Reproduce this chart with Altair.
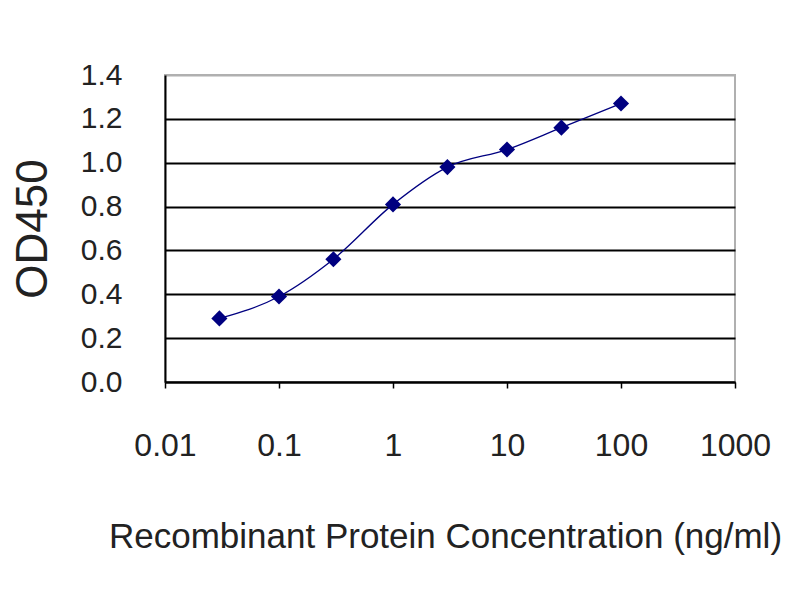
import altair as alt
import pandas as pd

# ELISA standard curve
conc = [0.03, 0.1, 0.3, 1, 3, 10, 30, 100]
od450 = [0.29, 0.39, 0.56, 0.81, 0.98, 1.06, 1.16, 1.27]

x_ticks = [0.01, 0.1, 1, 10, 100, 1000]
y_ticks = [0.0, 0.2, 0.4, 0.6, 0.8, 1.0, 1.2, 1.4]

FONT = "Liberation Sans, Arial, sans-serif"
NAVY = "#000080"
TEXT = "#222"

source = pd.DataFrame({"conc": conc, "od": od450})

x = alt.X(
    "conc:Q",
    scale=alt.Scale(type="log", domain=[0.01, 1000]),
    axis=alt.Axis(
        values=x_ticks,
        format="~g",
        title="Recombinant Protein Concentration (ng/ml)",
        grid=False,
        tickSize=6,
        tickColor="black",
        tickWidth=1.5,
        domainColor="black",
        domainWidth=2,
        labelFontSize=32,
        labelFlush=False,
        labelOverlap=False,
        labelPadding=42,
        labelColor=TEXT,
        titleFontSize=35,
        titleFontWeight="normal",
        titlePadding=58,
        titleColor=TEXT,
        titleX=280,
    ),
)
y = alt.Y(
    "od:Q",
    scale=alt.Scale(domain=[0, 1.4], nice=False),
    axis=alt.Axis(
        values=y_ticks,
        format=".1f",
        title="OD450",
        tickSize=0,
        domainColor="black",
        domainWidth=2,
        gridColor={"condition": {"test": "datum.value > 1.35", "value": "#b0b0b0"}, "value": "black"},
        gridWidth=2,
        labelFontSize=30,
        labelPadding=43,
        labelColor=TEXT,
        titleFontSize=44,
        titleFontWeight="normal",
        titlePadding=25,
        titleColor=TEXT,
    ),
)

line = alt.Chart(source).mark_line(color=NAVY, strokeWidth=1.3, interpolate="monotone").encode(x=x, y=y)
points = alt.Chart(source).mark_point(shape="diamond", filled=True, color=NAVY, size=260, opacity=1).encode(x=x, y=y)

chart = (
    (line + points)
    .properties(
        width=570,
        height=307,
        autosize=alt.AutoSizeParams(type="none"),
        padding={"left": 157, "top": 67, "right": 57, "bottom": 210},
        background="white",
    )
    .configure_view(stroke="#b0b0b0", strokeWidth=2)
    .configure_axis(labelFont=FONT, titleFont=FONT)
)

chart.save("out.html", embed_options={"renderer": "svg", "actions": False})
